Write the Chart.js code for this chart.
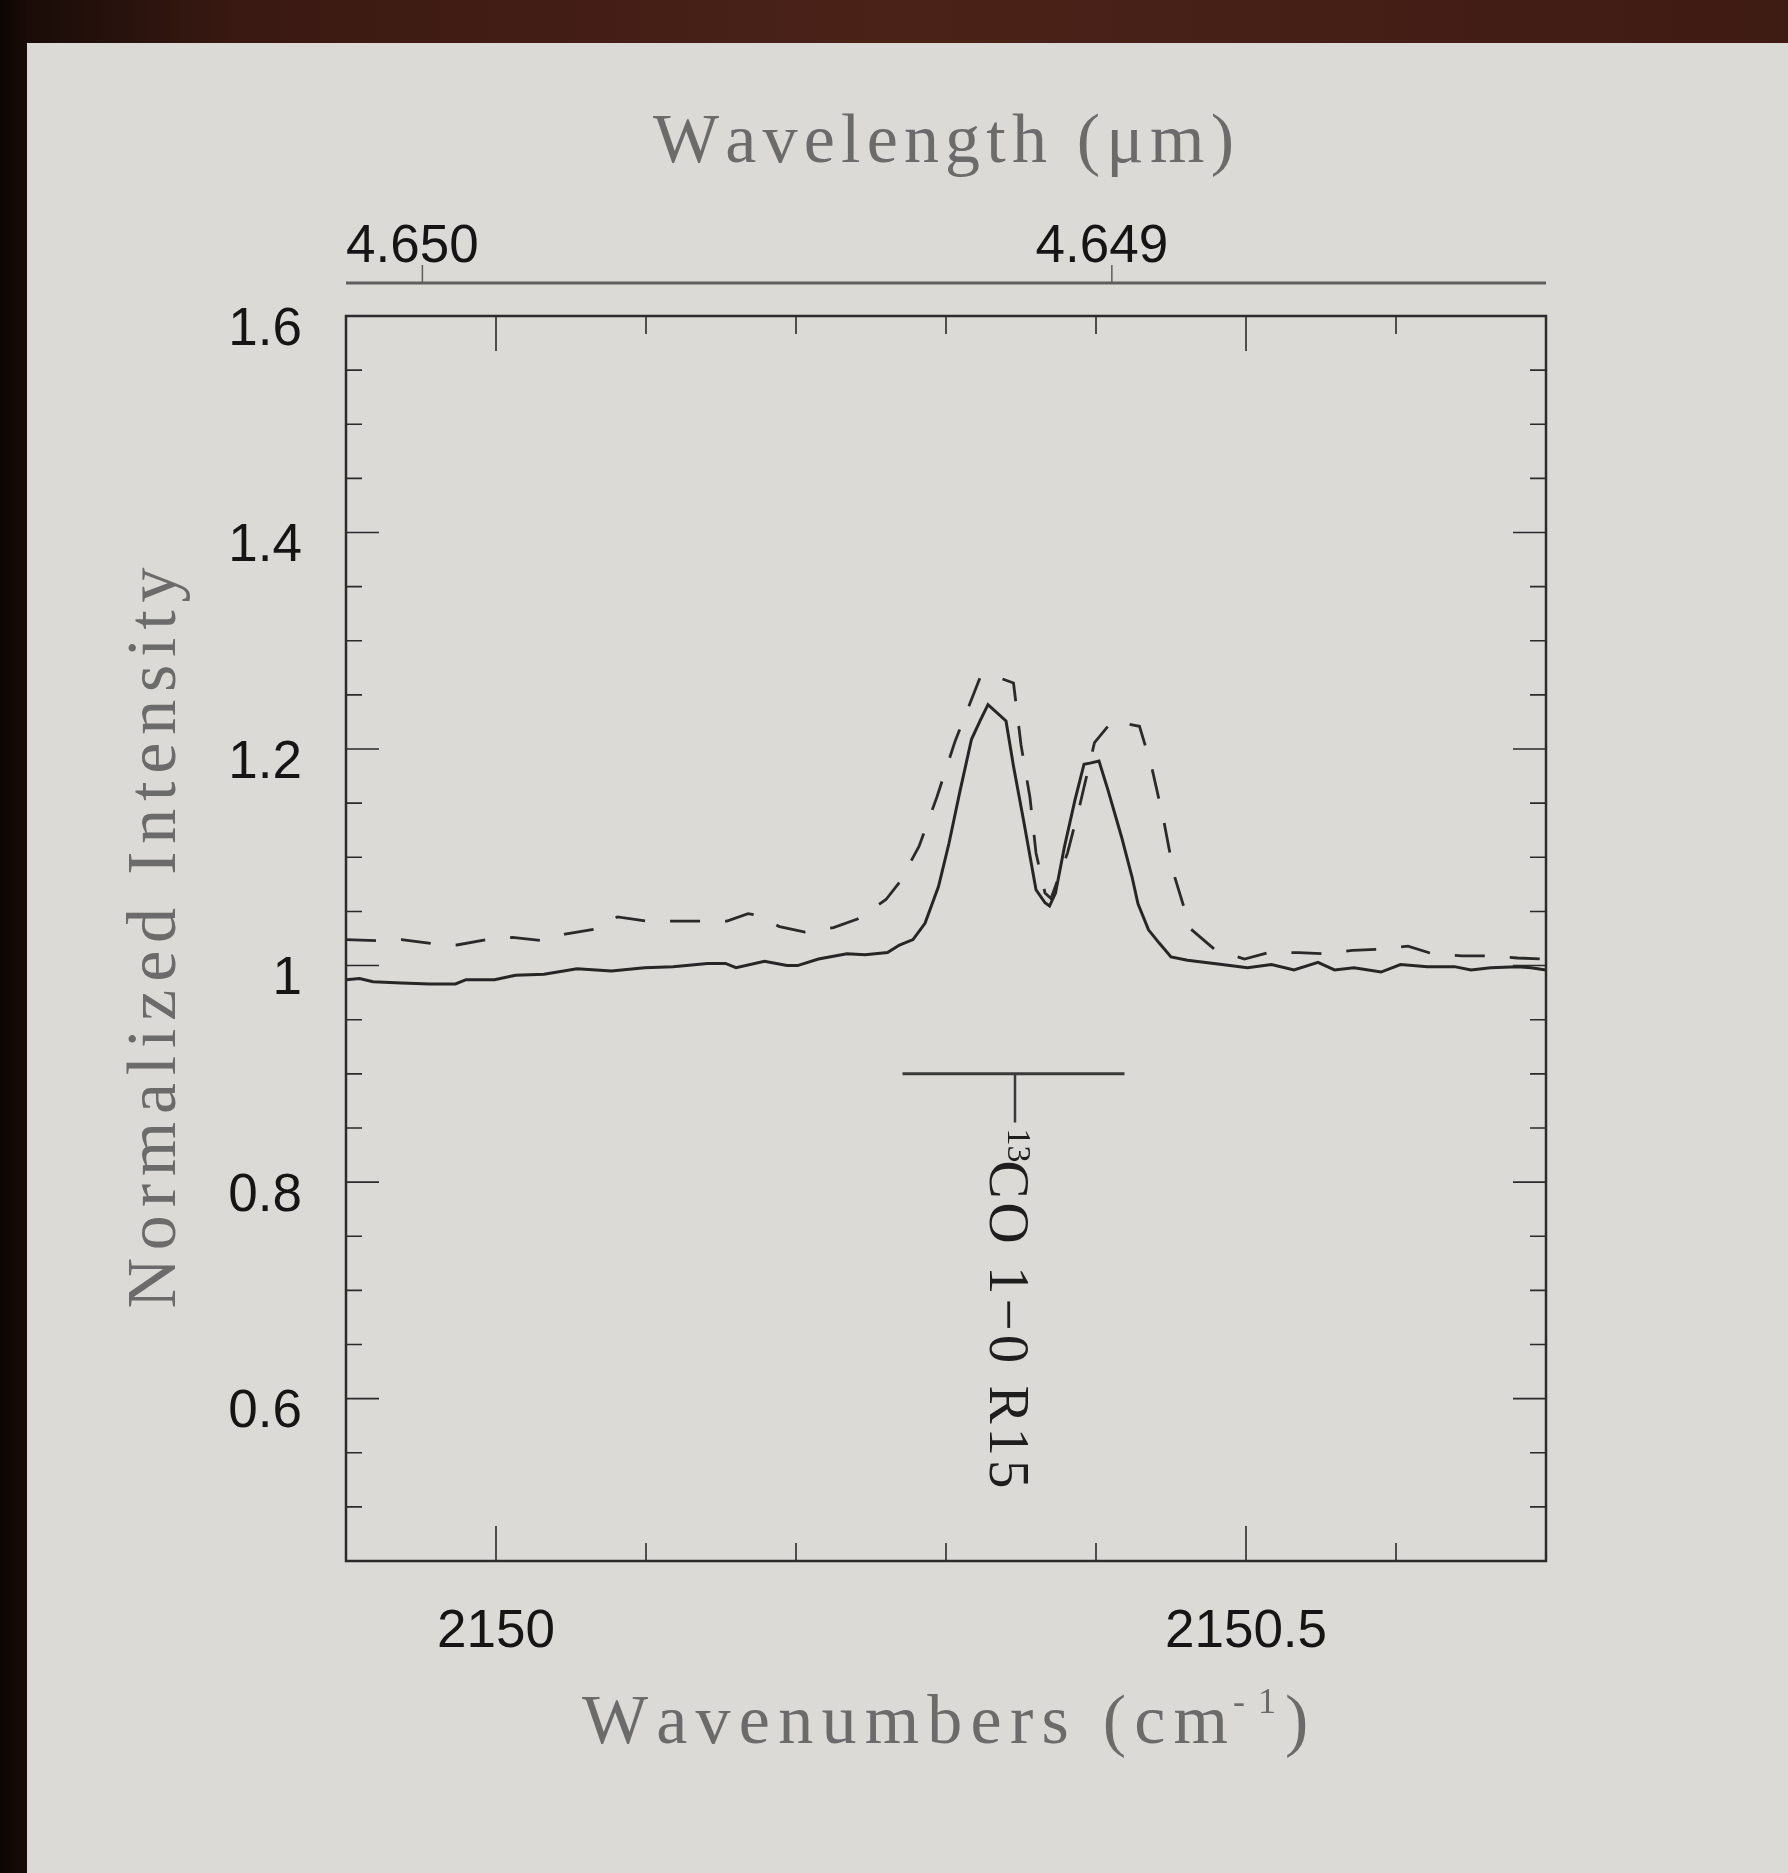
<!DOCTYPE html>
<html>
<head>
<meta charset="utf-8">
<script src="https://cdn.jsdelivr.net/npm/chart.js@4.4.0/dist/chart.umd.min.js"></script>
<style>
  html, body { margin: 0; padding: 0; }
  body {
    width: 1788px; height: 1873px; overflow: hidden; position: relative;
    background: linear-gradient(90deg, #0b0604 0px, #1a0c08 27px, #3a1912 240px, #4b2218 900px, #3e1b13 1788px);
  }
  #panel { position: absolute; left: 27px; top: 43px; right: 0; bottom: 0; background: #dcdad7; }
  #c { position: absolute; left: 0; top: 0; }
</style>
</head>
<body>
<div id="panel"></div>
<canvas id="c" width="1788" height="1873"></canvas>
<script>
// spectrum, solid line
const solidX = [2149.900, 2149.909, 2149.918, 2149.937, 2149.956, 2149.973, 2149.980, 2149.999, 2150.013, 2150.032,
  2150.054, 2150.077, 2150.099, 2150.118, 2150.141, 2150.153, 2150.160, 2150.179, 2150.194, 2150.201,
  2150.215, 2150.234, 2150.246, 2150.261, 2150.269, 2150.278, 2150.286, 2150.295, 2150.302, 2150.309,
  2150.317, 2150.323, 2150.328, 2150.340, 2150.345, 2150.352, 2150.360, 2150.366, 2150.369, 2150.373,
  2150.379, 2150.386, 2150.392, 2150.396, 2150.402, 2150.408, 2150.417, 2150.424, 2150.428, 2150.435,
  2150.442, 2150.450, 2150.461, 2150.484, 2150.501, 2150.517, 2150.532, 2150.548, 2150.559, 2150.572,
  2150.590, 2150.603, 2150.621, 2150.639, 2150.650, 2150.663, 2150.681, 2150.690, 2150.700];
const solidY = [0.987, 0.988, 0.985, 0.984, 0.983, 0.983, 0.987, 0.987, 0.991, 0.992,
  0.997, 0.995, 0.998, 0.999, 1.002, 1.002, 0.998, 1.004, 1.000, 1.000,
  1.006, 1.011, 1.010, 1.012, 1.019, 1.024, 1.039, 1.073, 1.113, 1.159,
  1.209, 1.227, 1.241, 1.226, 1.184, 1.132, 1.070, 1.058, 1.055, 1.067,
  1.110, 1.153, 1.186, 1.187, 1.189, 1.162, 1.119, 1.082, 1.057, 1.033,
  1.021, 1.008, 1.005, 1.001, 0.998, 1.001, 0.996, 1.003, 0.996, 0.998,
  0.994, 1.001, 0.999, 0.999, 0.996, 0.998, 0.999, 0.998, 0.996];

// spectrum, dashed line
const dashX = [2149.900, 2149.921, 2149.937, 2149.959, 2149.974, 2149.994, 2150.011, 2150.031, 2150.046, 2150.067,
  2150.081, 2150.101, 2150.118, 2150.138, 2150.154, 2150.168, 2150.172, 2150.189, 2150.206, 2150.225,
  2150.241, 2150.260, 2150.269, 2150.282, 2150.294, 2150.306, 2150.323, 2150.327, 2150.337, 2150.345,
  2150.350, 2150.356, 2150.360, 2150.366, 2150.370, 2150.381, 2150.389, 2150.399, 2150.411, 2150.429,
  2150.437, 2150.445, 2150.452, 2150.463, 2150.479, 2150.499, 2150.515, 2150.535, 2150.551, 2150.571,
  2150.588, 2150.608, 2150.624, 2150.644, 2150.661, 2150.681, 2150.700];
const dashY = [1.024, 1.023, 1.024, 1.020, 1.019, 1.024, 1.026, 1.023, 1.029, 1.034,
  1.045, 1.041, 1.041, 1.041, 1.041, 1.048, 1.047, 1.036, 1.031, 1.035,
  1.043, 1.061, 1.077, 1.110, 1.156, 1.207, 1.267, 1.269, 1.265, 1.261,
  1.204, 1.155, 1.104, 1.067, 1.062, 1.104, 1.147, 1.206, 1.226, 1.221,
  1.184, 1.135, 1.084, 1.034, 1.015, 1.006, 1.012, 1.012, 1.011, 1.014,
  1.015, 1.018, 1.011, 1.009, 1.009, 1.007, 1.006];

// axes
const xRange = [2149.9, 2150.7];
const xTicks = [2150, 2150.5];
const xTickLabels = ['2150', '2150.5'];
const xMinor = [2150.0, 2150.1, 2150.2, 2150.3, 2150.4, 2150.5, 2150.6];
const yRange = [0.45, 1.6];
const yTicks = [0.6, 0.8, 1.0, 1.2, 1.4, 1.6];
const yTickLabels = ['0.6', '0.8', '1', '1.2', '1.4', '1.6'];
const yMinor = [0.5, 0.55, 0.6, 0.65, 0.7, 0.75, 0.8, 0.85, 0.9, 0.95, 1.0, 1.05,
  1.1, 1.15, 1.2, 1.25, 1.3, 1.35, 1.4, 1.45, 1.5, 1.55];
const waveRange = [4.6483703, 4.6501108];
const waveTicks = [4.650, 4.649];
const waveTickLabels = ['4.650', '4.649'];

// line identification marker
const markerBarX = [2150.271, 2150.419];
const markerY = 0.9;
const markerStemX = 2150.346;
const markerStemY = [0.9, 0.855];
const markerIso = '13';
const markerLabel = 'CO 1\u22120 R15';

const serif = '"Liberation Serif", "DejaVu Serif", serif';
const sans = '"Liberation Sans", Arial, sans-serif';

function spaced(ctx, text, x0, x1, y) {
  const chars = [...text];
  const w = chars.map(c => ctx.measureText(c).width);
  const total = w.reduce((s, v) => s + v, 0);
  const gap = chars.length > 1 ? (x1 - x0 - total) / (chars.length - 1) : 0;
  let cx = x0;
  chars.forEach((c, i) => { ctx.fillText(c, cx, y); cx += w[i] + gap; });
}

const frame = {
  id: 'frame',
  afterDraw(chart) {
    const { ctx, chartArea: a, scales: { x, y, x2 } } = chart;
    const mid = (a.left + a.right) / 2;
    ctx.save();

    // plot box + inward ticks
    ctx.strokeStyle = '#2b2b2b';
    ctx.lineWidth = 2.5;
    ctx.strokeRect(a.left, a.top, a.right - a.left, a.bottom - a.top);
    ctx.lineWidth = 1.6;
    ctx.beginPath();
    xMinor.forEach(v => {
      const px = x.getPixelForValue(v);
      const len = xTicks.includes(v) ? 35 : 18;
      ctx.moveTo(px, a.bottom); ctx.lineTo(px, a.bottom - len);
      ctx.moveTo(px, a.top); ctx.lineTo(px, a.top + len);
    });
    yMinor.forEach(v => {
      const py = y.getPixelForValue(v);
      const len = yTicks.includes(v) ? 33 : 16;
      ctx.moveTo(a.left, py); ctx.lineTo(a.left + len, py);
      ctx.moveTo(a.right, py); ctx.lineTo(a.right - len, py);
    });
    ctx.stroke();

    // wavelength axis above the box
    const wy = a.top - 33;
    ctx.strokeStyle = '#5e5e5e';
    ctx.lineWidth = 3;
    ctx.beginPath();
    ctx.moveTo(a.left, wy); ctx.lineTo(a.right, wy);
    ctx.stroke();
    ctx.lineWidth = 1.5;
    ctx.beginPath();
    waveTicks.forEach(v => {
      const px = x2.getPixelForValue(v);
      ctx.moveTo(px, wy); ctx.lineTo(px, wy - 18);
    });
    ctx.stroke();

    // axis titles
    ctx.fillStyle = '#6b6b6b';
    ctx.textAlign = 'left';
    ctx.textBaseline = 'alphabetic';
    ctx.font = '70px ' + serif;
    spaced(ctx, 'Wavelength (\u03bcm)', mid - 293, mid + 288, a.top - 154);
    spaced(ctx, 'Wavenumbers (cm', mid - 364, mid + 282, a.bottom + 182);
    spaced(ctx, ')', mid + 339, mid + 361, a.bottom + 182);
    ctx.font = '36px ' + serif;
    spaced(ctx, '-1', mid + 287, mid + 330, a.bottom + 152);
    ctx.save();
    ctx.font = '70px ' + serif;
    ctx.translate(a.left - 171, (a.top + a.bottom) / 2 + 370);
    ctx.rotate(-Math.PI / 2);
    spaced(ctx, 'Normalized Intensity', 0, 741, 0);
    ctx.restore();

    // marker label, rotated
    const sx = x.getPixelForValue(markerStemX);
    const sy = y.getPixelForValue(markerStemY[1]);
    ctx.fillStyle = '#1e1e1e';
    ctx.translate(sx - 25, sy + 6);
    ctx.rotate(Math.PI / 2);
    ctx.font = '34px ' + serif;
    ctx.fillText(markerIso, 0, -18);
    ctx.font = '57px ' + serif;
    spaced(ctx, markerLabel, 32, 360, 0);
    ctx.restore();
  }
};

const tickFont = { family: sans, size: 53 };

new Chart(document.getElementById('c'), {
  type: 'line',
  data: {
    datasets: [
      {
        data: solidX.map((v, i) => ({ x: v, y: solidY[i] })),
        borderColor: '#262626', borderWidth: 3, pointRadius: 0, tension: 0
      },
      {
        data: dashX.map((v, i) => ({ x: v, y: dashY[i] })),
        borderColor: '#2a2a2a', borderWidth: 2.8, borderDash: [30, 25], pointRadius: 0, tension: 0
      },
      {
        data: markerBarX.map(v => ({ x: v, y: markerY })),
        borderColor: '#3a3a3a', borderWidth: 3, pointRadius: 0
      },
      {
        data: markerStemY.map(v => ({ x: markerStemX, y: v })),
        borderColor: '#3a3a3a', borderWidth: 2.5, pointRadius: 0
      }
    ]
  },
  options: {
    responsive: false,
    animation: false,
    devicePixelRatio: 1,
    layout: { padding: { left: 0, right: 242, top: 0, bottom: 0 } },
    plugins: { legend: { display: false }, tooltip: { enabled: false } },
    scales: {
      x: {
        type: 'linear', position: 'bottom', min: xRange[0], max: xRange[1],
        grid: { display: false }, border: { display: false },
        ticks: { font: tickFont, color: '#151515', padding: 32, maxRotation: 0, autoSkip: false,
          callback: (v, i) => xTickLabels[i] },
        afterBuildTicks: s => { s.ticks = xTicks.map(v => ({ value: v })); },
        afterFit: s => { s.height = 312; }
      },
      x2: {
        type: 'linear', position: 'top', reverse: true, min: waveRange[0], max: waveRange[1],
        grid: { display: false }, border: { display: false },
        ticks: { font: tickFont, color: '#151515', padding: 29, labelOffset: -10, maxRotation: 0, autoSkip: false,
          callback: (v, i) => waveTickLabels[i] },
        afterBuildTicks: s => { s.ticks = waveTicks.map(v => ({ value: v })); },
        afterFit: s => { s.height = 316; }
      },
      y: {
        type: 'linear', position: 'left', min: yRange[0], max: yRange[1],
        grid: { display: false }, border: { display: false },
        ticks: { font: tickFont, color: '#151515', padding: 36, labelOffset: 14, autoSkip: false,
          callback: (v, i) => yTickLabels[i] },
        afterBuildTicks: s => { s.ticks = yTicks.map(v => ({ value: v })); },
        afterFit: s => { s.width = 346; }
      }
    }
  },
  plugins: [frame]
});
</script>
</body>
</html>
